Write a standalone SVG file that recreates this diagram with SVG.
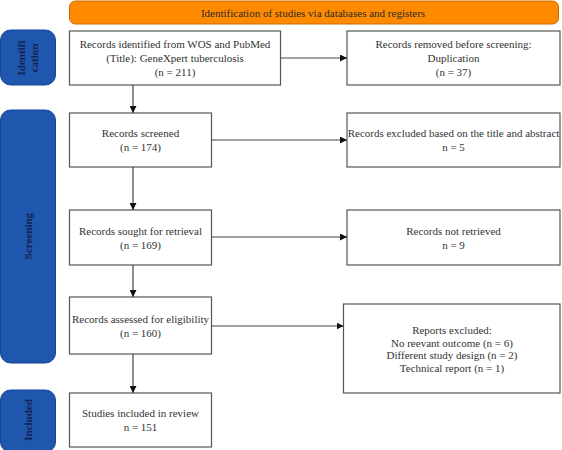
<svg xmlns="http://www.w3.org/2000/svg" width="562" height="450" viewBox="0 0 562 450">
<defs>
<marker id="ah" viewBox="0 0 10 10" refX="10" refY="5" markerWidth="7" markerHeight="7" markerUnits="userSpaceOnUse" orient="auto">
<path d="M0,0 L10,5 L0,10 z" fill="#111"/>
</marker>
</defs>
<style>
.box{fill:#fff;stroke:#555;stroke-width:1.2}
.side{fill:#1f56ae;stroke:#174595;stroke-width:1}
text{font-family:'Liberation Serif','DejaVu Serif',serif}
.t{font-size:11px;fill:#333;text-anchor:middle;dominant-baseline:central}
.st{font-size:11px;font-weight:bold;fill:#16224f;text-anchor:middle;dominant-baseline:central}
.c{fill:none;stroke:#444;stroke-width:1.2;marker-end:url(#ah)}
</style>
<rect width="562" height="450" fill="#fff"/>
<g font-family="Liberation Serif, serif">
<g id="banner">
<rect x="69.5" y="1" width="489" height="23" rx="6" fill="#ff8a00" stroke="#c96c00" stroke-width="1"/>
<text class="t" x="313" y="12.5" style="fill:#2a2a2a">Identification of studies via databases and registers</text>
</g>
<g id="side-identification">
<rect class="side" x="0.5" y="30" width="55" height="55" rx="10"/>
<text class="st" transform="translate(21,58) rotate(-90)">Identifi</text>
<text class="st" transform="translate(34,58) rotate(-90)">cation</text>
</g>
<g id="side-screening">
<rect class="side" x="0.5" y="110" width="55" height="253" rx="10"/>
<text class="st" transform="translate(28,236) rotate(-90)">Screening</text>
</g>
<g id="side-included">
<rect class="side" x="0.5" y="390" width="55" height="62" rx="10"/>
<text class="st" transform="translate(28,420) rotate(-90)">Included</text>
</g>
<g id="identified">
<rect class="box" x="69.5" y="31" width="211" height="54"/>
<text class="t" x="175" y="44">Records identified from WOS and PubMed</text>
<text class="t" x="175" y="58">(Title): GeneXpert tuberculosis</text>
<text class="t" x="175" y="72">(n = 211)</text>
</g>
<g id="removed">
<rect class="box" x="347" y="31" width="213" height="54"/>
<text class="t" x="453.5" y="44">Records removed before screening:</text>
<text class="t" x="453.5" y="58">Duplication</text>
<text class="t" x="453.5" y="72">(n = 37)</text>
</g>
<g id="screened">
<rect class="box" x="69.5" y="113" width="142" height="54"/>
<text class="t" x="140.5" y="133">Records screened</text>
<text class="t" x="140.5" y="147">(n = 174)</text>
</g>
<g id="excluded-title">
<rect class="box" x="347" y="113" width="213" height="54"/>
<text class="t" x="453.5" y="133">Records excluded based on the title and abstract</text>
<text class="t" x="453.5" y="147">n = 5</text>
</g>
<g id="sought">
<rect class="box" x="69.5" y="210" width="142" height="55"/>
<text class="t" x="140.5" y="231">Records sought for retrieval</text>
<text class="t" x="140.5" y="245">(n = 169)</text>
</g>
<g id="not-retrieved">
<rect class="box" x="347" y="210" width="213" height="55"/>
<text class="t" x="453.5" y="231">Records not retrieved</text>
<text class="t" x="453.5" y="245">n = 9</text>
</g>
<g id="assessed">
<rect class="box" x="69.5" y="297" width="142" height="57"/>
<text class="t" x="140.5" y="319">Records assessed for eligibility</text>
<text class="t" x="140.5" y="333">(n = 160)</text>
</g>
<g id="reports-excluded">
<rect class="box" x="343.5" y="304" width="216.5" height="89"/>
<text class="t" x="452" y="330">Reports excluded:</text>
<text class="t" x="452" y="342.5">No reevant outcome (n = 6)</text>
<text class="t" x="452" y="355">Different study design (n = 2)</text>
<text class="t" x="452" y="368">Technical report (n = 1)</text>
</g>
<g id="included">
<rect class="box" x="69.5" y="393" width="142" height="54"/>
<text class="t" x="140.5" y="413">Studies included in review</text>
<text class="t" x="140.5" y="427">n = 151</text>
</g>
</g>
<g id="connectors">
<line class="c" x1="280.5" y1="58" x2="347" y2="58"/>
<line class="c" x1="133" y1="85" x2="133" y2="113"/>
<line class="c" x1="211.5" y1="140" x2="347" y2="140"/>
<line class="c" x1="133" y1="167" x2="133" y2="210"/>
<line class="c" x1="211.5" y1="237" x2="347" y2="237"/>
<line class="c" x1="133" y1="265" x2="133" y2="297"/>
<line class="c" x1="211.5" y1="326" x2="343.5" y2="326"/>
<line class="c" x1="133" y1="354" x2="133" y2="393"/>
</g>
</svg>
